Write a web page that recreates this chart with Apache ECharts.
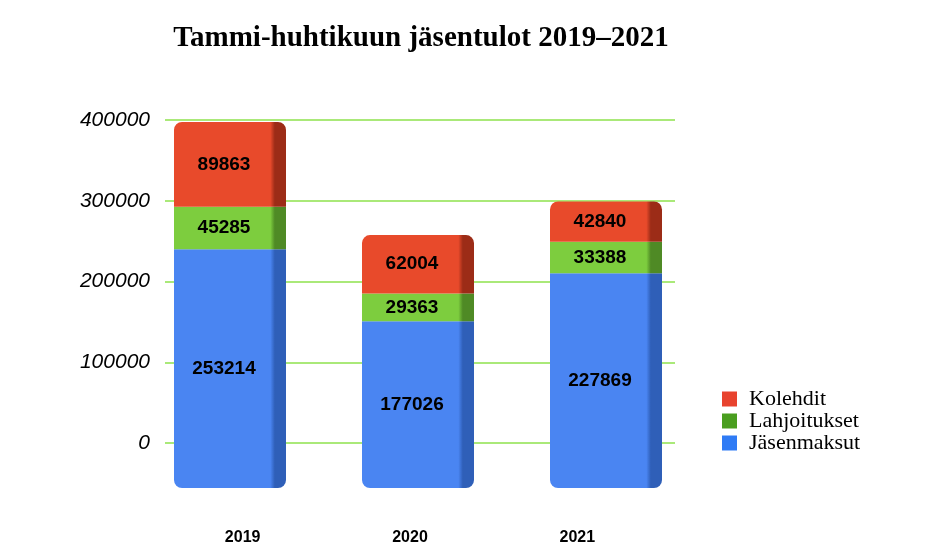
<!DOCTYPE html>
<html>
<head>
<meta charset="utf-8">
<script src="https://cdn.jsdelivr.net/npm/echarts@6/dist/echarts.min.js"></script>
<style>
  html, body { margin: 0; padding: 0; background: #fff; }
  #chart { width: 950px; height: 560px; }
</style>
</head>
<body>
<div id="chart"></div>
<script>
// data
const years = ["2019", "2020", "2021"];
const jasenmaksut = [253214, 177026, 227869];
const lahjoitukset = [45285, 29363, 33388];
const kolehdit = [89863, 62004, 42840];
const yTicks = [0, 100000, 200000, 300000, 400000];

const RED = "#e84a2b";
const GREEN = "#7dcd3e";
const BLUE = "#4a85f2";

// fake the 3d side face with a darker right strip
function faceColor(base, side) {
  return {
    type: "linear", x: 0, y: 0, x2: 1, y2: 0,
    colorStops: [
      { offset: 0, color: base },
      { offset: 0.86, color: base },
      { offset: 0.9, color: side },
      { offset: 1, color: side },
    ],
  };
}

const chart = echarts.init(document.getElementById("chart"));

const labelStyle = {
  show: true,
  position: "inside",
  color: "#000",
  fontFamily: "Liberation Sans",
  fontWeight: "bold",
  fontSize: 19,
  offset: [-6, 0],
};

chart.setOption({
  animation: false,
  title: {
    text: "Tammi-huhtikuun jäsentulot 2019–2021",
    left: 416,
    textAlign: "center",
    top: 19,
    textStyle: {
      fontFamily: "Liberation Serif",
      fontWeight: "bold",
      fontSize: 29,
      color: "#000",
    },
  },
  legend: {
    orient: "vertical",
    left: 717,
    top: 383,
    itemWidth: 15,
    itemHeight: 15,
    itemGap: 0,
    icon: "rect",
    textStyle: {
      fontFamily: "Liberation Serif", fontSize: 22, color: "#000",
      lineHeight: 21, padding: [0, 0, 0, 7],
    },
    data: [
      { name: "Kolehdit", itemStyle: { color: "#e8432e" } },
      { name: "Lahjoitukset", itemStyle: { color: "#4a9e1f" } },
      { name: "Jäsenmaksut", itemStyle: { color: "#2f7bf5" } },
    ],
  },
  grid: [
    // axis + gridlines
    { left: 165, width: 510, top: 120, height: 323 },
    // bars
    { left: 136, width: 564, top: 111, height: 377 },
    // year labels
    { left: 159, width: 502, top: 111, height: 377 },
  ],
  xAxis: [
    { gridIndex: 0, type: "category", data: years, show: false },
    { gridIndex: 1, type: "category", data: years, show: false },
    {
      gridIndex: 2, type: "category", data: years,
      axisLine: { show: false }, axisTick: { show: false },
      axisLabel: {
        margin: 42,
        fontFamily: "Liberation Sans",
        fontWeight: "bold",
        fontSize: 16,
        color: "#000",
      },
    },
  ],
  yAxis: [
    {
      gridIndex: 0, type: "value", min: yTicks[0], max: yTicks[yTicks.length - 1],
      interval: yTicks[1] - yTicks[0],
      axisLine: { show: false }, axisTick: { show: false },
      axisLabel: {
        margin: 15,
        formatter: (v) => String(v),
        fontFamily: "Liberation Sans",
        fontStyle: "italic",
        fontSize: 21,
        color: "#000",
      },
      splitLine: { lineStyle: { color: "#8ee24c", width: 1.5 } },
    },
    { gridIndex: 1, type: "value", min: 0, max: 400000, show: false },
    { gridIndex: 2, type: "value", min: 0, max: 400000, show: false },
  ],
  series: [
    {
      name: "Jäsenmaksut", type: "bar", stack: "t",
      xAxisIndex: 1, yAxisIndex: 1, barWidth: 112,
      data: jasenmaksut,
      itemStyle: { color: faceColor(BLUE, "#2f5fb8"), borderRadius: [0, 0, 8, 8] },
      label: labelStyle,
    },
    {
      name: "Lahjoitukset", type: "bar", stack: "t",
      xAxisIndex: 1, yAxisIndex: 1, barWidth: 112,
      data: lahjoitukset,
      itemStyle: { color: faceColor(GREEN, "#4f8a25") },
      label: labelStyle,
    },
    {
      name: "Kolehdit", type: "bar", stack: "t",
      xAxisIndex: 1, yAxisIndex: 1, barWidth: 112,
      data: kolehdit,
      itemStyle: { color: faceColor(RED, "#9c2c17"), borderRadius: [8, 8, 0, 0] },
      label: labelStyle,
    },
  ],
});
</script>
</body>
</html>
